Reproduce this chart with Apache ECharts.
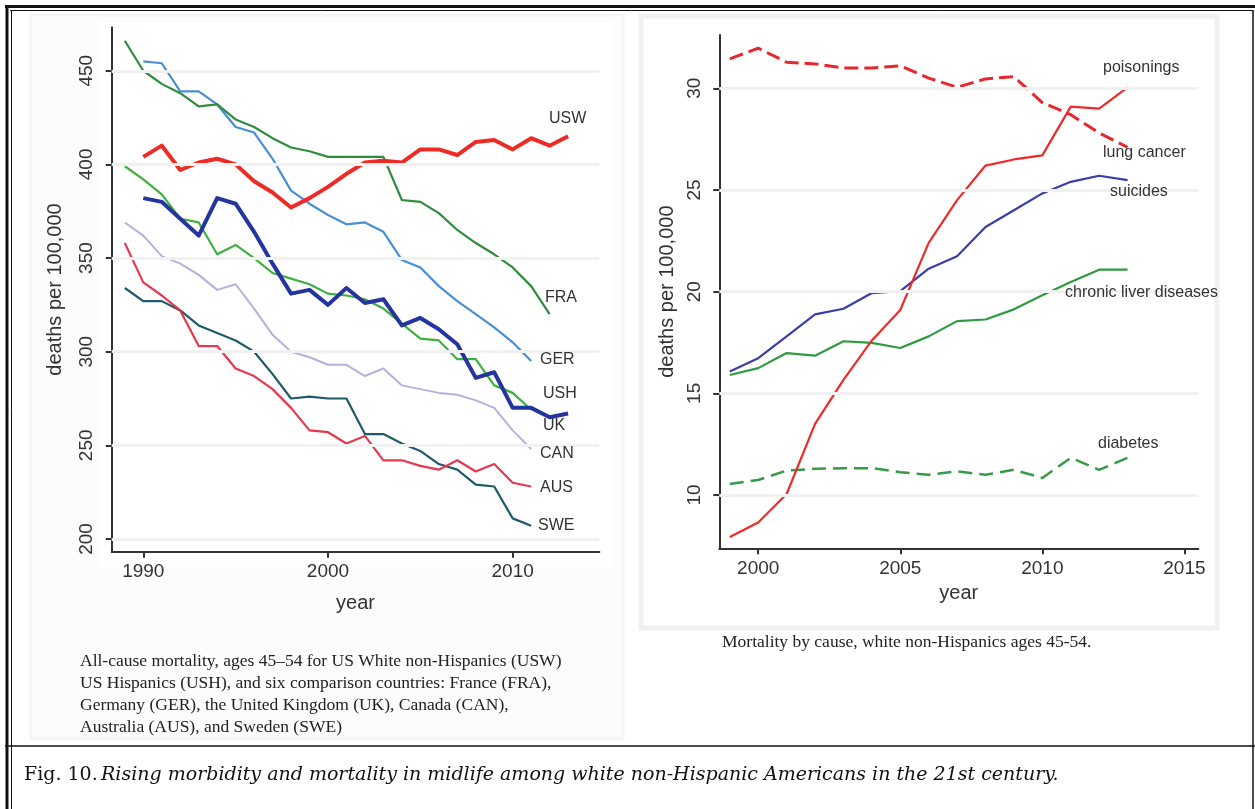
<!DOCTYPE html>
<html>
<head>
<meta charset="utf-8">
<script src="https://cdn.jsdelivr.net/npm/echarts@6/dist/echarts.min.js"></script>
<style>
  html, body { margin: 0; padding: 0; background: #fff; }
  #main { width: 1255px; height: 809px; }
</style>
</head>
<body>
<div id="main"></div>
<script>
// left panel: all-cause mortality, 1989-2013
const yearsL = [1989, 1990, 1991, 1992, 1993, 1994, 1995, 1996, 1997, 1998, 1999, 2000, 2001,
  2002, 2003, 2004, 2005, 2006, 2007, 2008, 2009, 2010, 2011, 2012, 2013]
const usw = [null, 404, 410, 397, 401, 403, 400, 391, 385, 377, 382, 388, 395, 401, 402, 401, 408, 408, 405, 412, 413, 408, 414, 410, 415]
const fra = [466, 450, 443, 438, 431, 432, 424, 420, 414, 409, 407, 404, 404, 404, 404, 381, 380, 374, 365, 358, 352, 345, 335, 320, null]
const ger = [null, 455, 454, 439, 439, 432, 420, 417, 403, 386, 379, 373, 368, 369, 364, 349, 345, 335, 327, 320, 313, 305, 295, null, null]
const ush = [null, 382, 380, 371, 362, 382, 379, 364, 347, 331, 333, 325, 334, 326, 328, 314, 318, 312, 304, 286, 289, 270, 270, 265, 267]
const uk = [399, 392, 384, 371, 369, 352, 357, 350, 342, 339, 336, 331, 330, 328, 323, 315, 307, 306, 296, 296, 282, 278, 269, null, null]
const can = [369, 362, 351, 347, 341, 333, 336, 323, 309, 300, 297, 293, 293, 287, 291, 282, 280, 278, 277, 274, 270, 258, 248, null, null]
const aus = [358, 337, 330, 322, 303, 303, 291, 287, 280, 270, 258, 257, 251, 255, 242, 242, 239, 237, 242, 236, 240, 230, 228, null, null]
const swe = [334, 327, 327, 322, 314, 310, 306, 300, 288, 275, 276, 275, 275, 256, 256, 251, 247, 240, 237, 229, 228, 211, 207, null, null]
const xTicksL = [1990, 2000, 2010]
const yTicksL = [200, 250, 300, 350, 400, 450]

// right panel: mortality by cause, 1999-2013
const yearsR = [1999, 2000, 2001, 2002, 2003, 2004, 2005, 2006, 2007, 2008, 2009, 2010, 2011, 2012, 2013]
const lungCancer = [31.45, 31.97, 31.28, 31.2, 31.0, 31.0, 31.1, 30.5, 30.05, 30.46, 30.57, 29.3, 28.7, 27.8, 27.1]
const poisonings = [7.94, 8.65, 10.05, 13.5, 15.66, 17.6, 19.1, 22.4, 24.5, 26.2, 26.5, 26.7, 29.1, 29.0, 30.05]
const suicides = [16.07, 16.73, 17.8, 18.88, 19.16, 19.93, 20.03, 21.13, 21.74, 23.18, 24.0, 24.83, 25.4, 25.7, 25.48]
const liver = [15.9, 16.24, 16.98, 16.85, 17.56, 17.48, 17.23, 17.8, 18.55, 18.63, 19.13, 19.82, 20.48, 21.08, 21.08]
const diabetes = [10.54, 10.74, 11.2, 11.29, 11.32, 11.32, 11.12, 11.0, 11.16, 11.0, 11.24, 10.84, 11.83, 11.24, 11.83]
const xTicksR = [2000, 2005, 2010, 2015]
const yTicksR = [10, 15, 20, 25, 30]

const SANS = '"Liberation Sans", Arial, sans-serif'
const SERIF = '"Liberation Serif", "Times New Roman", serif'
const INK = '#333'

// [year, value] pairs, gaps dropped
function pairs(years, vals) {
  return years.map((y, i) => [y, vals[i]]).filter(p => p[1] !== null)
}

function lineSeries(idx, years, vals, color, width, dash) {
  return {
    type: 'line',
    xAxisIndex: idx,
    yAxisIndex: idx,
    data: pairs(years, vals),
    symbol: 'none',
    silent: true,
    z: 3,
    lineStyle: { color: color, width: width, type: dash || 'solid', cap: 'butt', join: 'round' }
  }
}

// faint horizontal grid lines at the tick values
function gridSeries(idx, ticks, years) {
  return {
    type: 'line',
    xAxisIndex: idx,
    yAxisIndex: idx,
    data: [[years[0], ticks[0]]],
    symbol: 'none',
    silent: true,
    z: 1,
    lineStyle: { opacity: 0 },
    markLine: {
      silent: true,
      symbol: 'none',
      animation: false,
      label: { show: false },
      lineStyle: { color: '#f1f1f1', width: 3, type: 'solid' },
      data: ticks.map(v => ({ yAxis: v }))
    }
  }
}

function xAxis(idx, min, max, ticks, gap) {
  return {
    type: 'value', gridIndex: idx, min: min, max: max,
    axisLine: { show: true, onZero: false, lineStyle: { color: '#333', width: 2 } },
    axisTick: { show: true, customValues: ticks, length: 6, lineStyle: { color: '#333', width: 2 } },
    axisLabel: { customValues: ticks, margin: 11, color: INK, fontSize: 19, fontFamily: SANS,
      formatter: v => String(v) },
    splitLine: { show: false },
    name: 'year', nameLocation: 'middle', nameGap: gap,
    nameTextStyle: { fontSize: 20, color: INK, fontFamily: SANS }
  }
}

function yAxis(idx, min, max, ticks, gap) {
  return {
    type: 'value', gridIndex: idx, min: min, max: max,
    axisLine: { show: true, onZero: false, lineStyle: { color: '#333', width: 2 } },
    axisTick: { show: true, customValues: ticks, length: 6, lineStyle: { color: '#333', width: 2 } },
    axisLabel: { customValues: ticks, rotate: 90, margin: 15, color: INK, fontSize: 19, fontFamily: SANS,
      formatter: v => String(v) },
    splitLine: { show: false },
    name: 'deaths per 100,000', nameLocation: 'middle', nameGap: gap,
    nameTextStyle: { fontSize: 20, color: INK, fontFamily: SANS }
  }
}

function label(text, x, y) {
  return {
    type: 'text', x: x, y: y, z: 10,
    style: { text: text, fill: INK, font: '16px ' + SANS, verticalAlign: 'middle' }
  }
}

function hline(x1, x2, y, w) {
  return { type: 'line', z: 10, shape: { x1: x1, y1: y, x2: x2, y2: y }, style: { stroke: '#111', lineWidth: w } }
}
function vline(x, y1, y2, w) {
  return { type: 'line', z: 10, shape: { x1: x, y1: y1, x2: x, y2: y2 }, style: { stroke: '#111', lineWidth: w } }
}

const myChart = echarts.init(document.getElementById('main'))

const option = {
  animation: false,
  backgroundColor: '#fff',
  grid: [
    { left: 111.7, top: 27.3, width: 487.6, height: 524.4, containLabel: false },
    { left: 719.3, top: 35, width: 479, height: 513.3, containLabel: false }
  ],
  xAxis: [
    xAxis(0, 1988.29, 2014.69, xTicksL, 42),
    xAxis(1, 1998.63, 2015.49, xTicksR, 34)
  ],
  yAxis: [
    yAxis(0, 193.2, 473.2, yTicksL, 46),
    yAxis(1, 7.38, 32.62, yTicksR, 42)
  ],
  series: [
    gridSeries(0, yTicksL, yearsL),
    lineSeries(0, yearsL, can, '#b8b0dc', 2),
    lineSeries(0, yearsL, swe, '#1f5a6a', 2.2),
    lineSeries(0, yearsL, aus, '#e6384f', 2.2),
    lineSeries(0, yearsL, uk, '#3fb03f', 2.2),
    lineSeries(0, yearsL, ger, '#4a8fd6', 2.2),
    lineSeries(0, yearsL, fra, '#2f8c3e', 2.2),
    lineSeries(0, yearsL, ush, '#2435a0', 4),
    lineSeries(0, yearsL, usw, '#ee2a24', 4),

    gridSeries(1, yTicksR, yearsR),
    lineSeries(1, yearsR, diabetes, '#379a46', 2.5, [14, 7]),
    lineSeries(1, yearsR, liver, '#2f9a3f', 2.2),
    lineSeries(1, yearsR, suicides, '#3a3ea8', 2.2),
    lineSeries(1, yearsR, poisonings, '#ee2a2a', 2.2),
    lineSeries(1, yearsR, lungCancer, '#e8262d', 3, [14, 6])
  ],
  graphic: [
    // panel backgrounds
    { type: 'rect', z: -5, shape: { x: 31, y: 15, width: 592, height: 724 },
      style: { fill: '#fcfcfc', stroke: '#f5f5f5', lineWidth: 3 } },
    { type: 'rect', z: -4, shape: { x: 100, y: 22, width: 512, height: 545 },
      style: { fill: '#ffffff' } },
    { type: 'rect', z: -5, shape: { x: 641, y: 16, width: 576, height: 612 },
      style: { fill: '#ffffff', stroke: '#f1f1f1', lineWidth: 5 } },

    // series labels, left
    label('USW', 549, 119),
    label('FRA', 545, 298),
    label('GER', 540, 360),
    label('USH', 543, 394),
    label('UK', 543, 426),
    label('CAN', 540, 454),
    label('AUS', 540, 488),
    label('SWE', 538, 526),
    // series labels, right
    label('poisonings', 1103, 68),
    label('lung cancer', 1103, 153),
    label('suicides', 1110, 192),
    label('chronic liver diseases', 1065, 293),
    label('diabetes', 1098, 444),

    // captions
    {
      type: 'text', x: 80, y: 650, z: 10,
      style: {
        text: 'All-cause mortality, ages 45\u201354 for US White non-Hispanics (USW)\n' +
          'US Hispanics (USH), and six comparison countries: France (FRA),\n' +
          'Germany (GER), the United Kingdom (UK), Canada (CAN),\n' +
          'Australia (AUS), and Sweden (SWE)',
        fill: '#222', font: '17.5px ' + SERIF, lineHeight: 22
      }
    },
    {
      type: 'text', x: 722, y: 633, z: 10,
      style: { text: 'Mortality by cause, white non-Hispanics ages 45-54.', fill: '#222', font: '17.5px ' + SERIF }
    },
    {
      type: 'text', x: 24, y: 775, z: 10,
      style: {
        text: '{n|Fig. 10.} {it|Rising morbidity and mortality in midlife among white non-Hispanic Americans in the 21st century.}',
        verticalAlign: 'middle',
        rich: {
          n: { fill: '#111', font: '19px "DejaVu Serif", serif' },
          it: { fill: '#111', font: 'italic 19px "DejaVu Serif", serif' }
        }
      }
    },

    // figure frame
    hline(5, 1255, 6.5, 3),
    hline(10, 1253, 10.5, 1),
    vline(7, 5, 809, 3),
    vline(11.5, 10, 809, 1),
    vline(1253, 10, 809, 1.5),
    hline(5, 1255, 746, 1.5)
  ]
}

myChart.setOption(option)
</script>
</body>
</html>
